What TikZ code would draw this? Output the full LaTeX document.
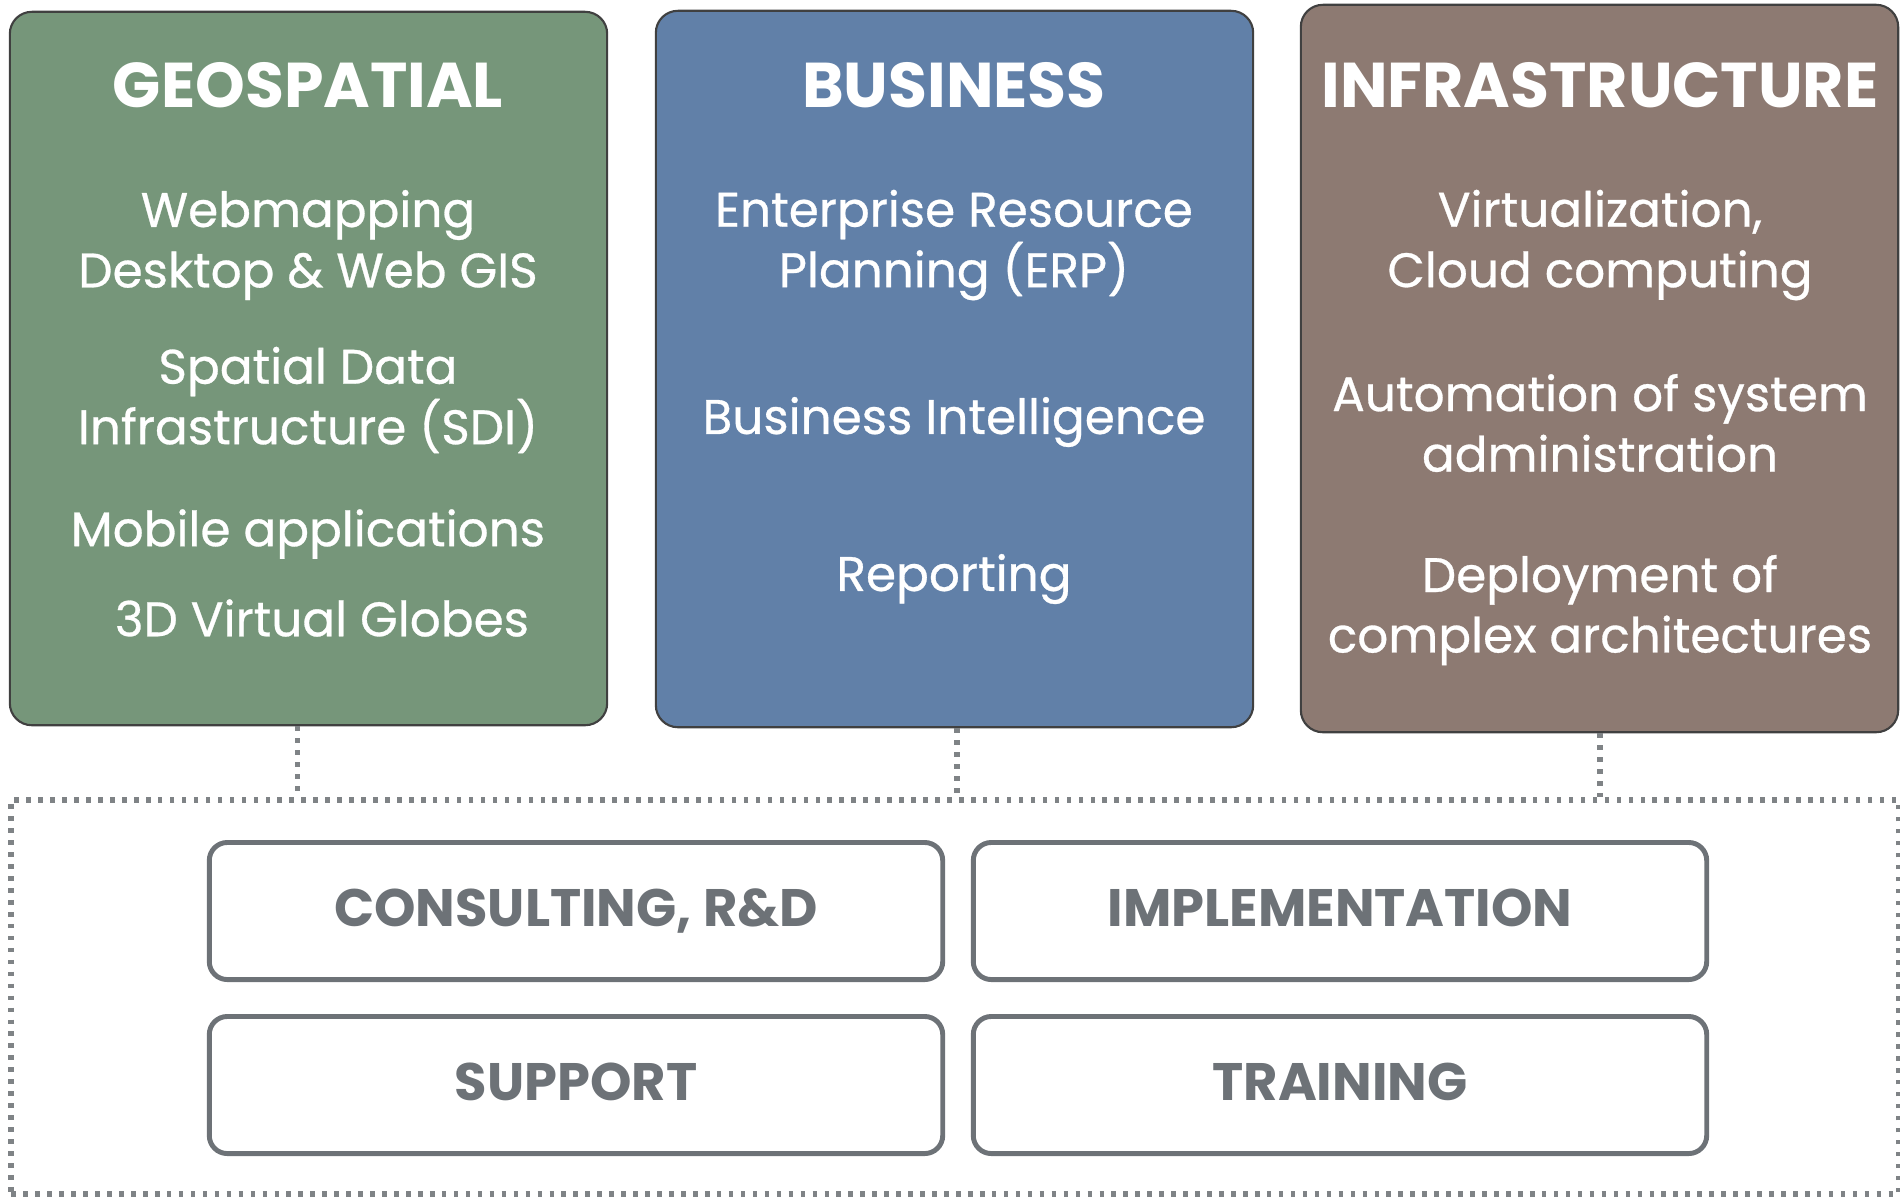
\documentclass[tikz,border=0pt]{standalone}
\usepackage{fontspec}
\setmainfont{Poppins}
\newfontfamily\itemfont{Poppins}[FakeBold=0.6]
\usetikzlibrary{positioning}
\definecolor{geogreen}{HTML}{76967A}
\definecolor{busblue}{HTML}{6180A8}
\definecolor{infbrown}{HTML}{8D7A72}
\definecolor{servgray}{HTML}{6D7277}
\definecolor{dotgray}{HTML}{7F8386}
\tikzset{
  pillar/.style = {draw=black!75, line width=0.6pt, rounded corners=0.22cm,
    minimum width=5.97cm, inner sep=0pt},% pillar box
  pillar_t/.style = {white, font=\bfseries\fontsize{18}{21}\selectfont},% pillar title
  pillar_i/.style = {white, align=center, font=\itemfont\fontsize{13.8}{17.2}\selectfont},% pillar item
  serv_b/.style = {draw=servgray, line width=1.4pt, rounded corners=0.18cm,
    minimum width=7.33cm, minimum height=1.37cm, text=servgray,
    text height=0.88em, text depth=0pt,
    font=\bfseries\fontsize{15}{17}\selectfont},% service box
  link_d/.style = {dotgray, line width=1.7pt, dash pattern=on 1.3pt off 2.1pt}% dotted link
}
\begin{document}
\begin{tikzpicture}[x=0.01cm,y=-0.01cm]
\useasboundingbox (0,0) rectangle (1900,1196);
% pillars
\node [pillar, fill=geogreen, minimum height=7.13cm] (geo) at (308.5,368.5) {};
\node [pillar, fill=busblue, minimum height=7.16cm] (bus) at (954.5,369) {};
\node [pillar, fill=infbrown, minimum height=7.27cm] (inf) at (1599.5,368.5) {};
\node [pillar_t] (geo_t) at (308,85) {GEOSPATIAL};
\node [pillar_t] (bus_t) at (954,85) {BUSINESS};
\node [pillar_t] (inf_t) at (1600,85) {INFRASTRUCTURE};
\node [pillar_i] (geo_1) at (308,245) {Webmapping\\Desktop \& Web GIS};
\node [pillar_i] (geo_2) at (308,400) {Spatial Data\\Infrastructure (SDI)};
\node [pillar_i] (geo_3) at (308,534) {Mobile applications};
\node [pillar_i] (geo_4) at (322,618) {3D Virtual Globes};
\node [pillar_i] (bus_1) at (954,245) {Enterprise Resource\\Planning (ERP)};
\node [pillar_i] (bus_2) at (954,422) {Business Intelligence};
\node [pillar_i] (bus_3) at (954,579) {Reporting};
\node [pillar_i] (inf_1) at (1600,245) {Virtualization,\\Cloud computing};
\node [pillar_i] (inf_2) at (1600,423) {Automation of system\\administration};
\node [pillar_i] (inf_3) at (1600,610) {Deployment of\\complex architectures};
% services
\node [link_d, draw, minimum width=18.86cm, minimum height=3.94cm] (serv) at (955,997) {};
\node [serv_b] (cons) at (576,911) {CONSULTING, R\&D};
\node [serv_b] (impl) at (1340,911) {IMPLEMENTATION};
\node [serv_b] (supp) at (576,1085) {SUPPORT};
\node [serv_b] (train) at (1340,1085) {TRAINING};
% links
\draw [link_d] ([xshift=-0.11cm]geo.south) -- ([xshift=-0.11cm]geo.south |- serv.north);
\draw [link_d] ([xshift=0.02cm]bus.south) -- ([xshift=0.02cm]bus.south |- serv.north);
\draw [link_d] (inf.south) -- (inf.south |- serv.north);
\end{tikzpicture}
\end{document}
